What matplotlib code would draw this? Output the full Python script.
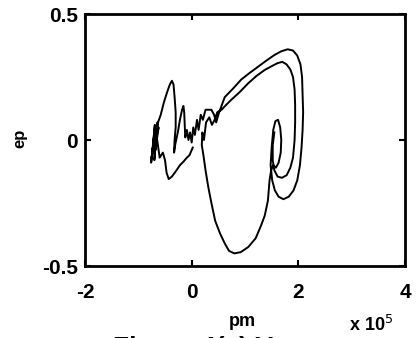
import matplotlib
matplotlib.use("Agg")
import matplotlib.pyplot as plt

# pm in units of 1e5, ep
pm = [0.02, -0.04, -0.09, -0.15, -0.22, -0.30, -0.37, -0.43, -0.47, -0.50, -0.54,
      -0.60, -0.66, -0.70, -0.67, -0.73, -0.69, -0.76, -0.70, -0.75, -0.66, -0.72, -0.64,
      -0.70, -0.62, -0.68, -0.63,
      -0.58, -0.52, -0.46, -0.41, -0.37, -0.34, -0.32, -0.30, -0.30, -0.32, -0.33, -0.31,
      -0.26, -0.22, -0.18, -0.155, -0.14, -0.13, -0.12, -0.09, -0.06, -0.03, 0.00, 0.03,
      0.06, 0.10, 0.13, 0.17, 0.21, 0.26, 0.32, 0.37, 0.42, 0.46, 0.50, 0.55,
      0.62, 0.78, 0.93, 1.08, 1.24, 1.40, 1.55, 1.68, 1.80, 1.90, 1.98, 2.04, 2.07, 2.08,
      2.09, 2.08, 2.06, 2.03, 1.98, 1.91, 1.82, 1.72, 1.63, 1.56, 1.51, 1.48,
      1.50, 1.53, 1.57, 1.62, 1.66, 1.68, 1.67, 1.63, 1.58, 1.53, 1.49,
      1.46, 1.43, 1.37, 1.30, 1.20, 1.06, 0.92, 0.80, 0.70, 0.62, 0.53, 0.44, 0.37, 0.31,
      0.26, 0.22, 0.19,
      0.20, 0.23, 0.27, 0.33, 0.38, 0.43, 0.48, 0.56, 0.65, 0.745, 0.90, 1.06, 1.22, 1.37,
      1.50, 1.61, 1.70, 1.78, 1.85, 1.90, 1.93, 1.94, 1.94, 1.93, 1.90, 1.85, 1.78, 1.69,
      1.61, 1.55, 1.52, 1.52, 1.55]
ep = [-0.03, -0.06, -0.07, -0.085, -0.10, -0.125, -0.145, -0.155, -0.13, -0.08, -0.05,
      -0.07, 0.02, -0.08, 0.05, -0.04, 0.06, -0.09, 0.02, -0.07, 0.04, -0.05, 0.07,
      -0.02, 0.05, -0.04, 0.07,
      0.10, 0.15, 0.19, 0.22, 0.235, 0.22, 0.17, 0.11, 0.05, 0.00, -0.05, -0.02,
      0.03, 0.08, 0.12, 0.135, 0.11, 0.06, 0.01, 0.04, 0.00, 0.03, -0.01, 0.05,
      0.02, 0.08, 0.04, 0.10, 0.08, 0.12, 0.12, 0.12, 0.10, 0.07, 0.10, 0.13,
      0.17, 0.205, 0.24, 0.265, 0.29, 0.315, 0.337, 0.352, 0.36, 0.355, 0.335, 0.30, 0.25, 0.18,
      0.11, 0.04, -0.03, -0.10, -0.16, -0.20, -0.225, -0.235, -0.225, -0.20, -0.16, -0.10,
      -0.03, 0.04, 0.075, 0.08, 0.05, 0.00, -0.05, -0.09, -0.11, -0.10, -0.12,
      -0.16, -0.24, -0.30, -0.34, -0.39, -0.425, -0.445, -0.45, -0.44, -0.41, -0.37, -0.32, -0.25, -0.185,
      -0.12, -0.06, -0.02,
      0.03, 0.00, 0.07, 0.09, 0.06, 0.08, 0.11, 0.12, 0.14, 0.16, 0.19, 0.225, 0.255, 0.278,
      0.293, 0.305, 0.31, 0.30, 0.28, 0.25, 0.20, 0.14, 0.07, 0.00, -0.07, -0.11, -0.14, -0.15,
      -0.145, -0.12, -0.08, -0.02, 0.03]

xticks = [-2, 0, 2, 4]
yticks = [-0.5, 0, 0.5]
xticklabels = ["-2", "0", "2", "4"]
yticklabels = ["-0.5", "0", "0.5"]

plt.rcParams['font.family'] = ['Liberation Sans', 'DejaVu Sans']
fig = plt.figure(figsize=(4.16, 3.38), dpi=100)
L, R, T, B = 85, 405, 14, 266
ax = fig.add_axes([L/416, (338-B)/338, (R-L)/416, (B-T)/338])
ax.plot(pm, ep, color='black', lw=1.4)
ax.set_xlim(-2, 4)
ax.set_ylim(-0.5, 0.5)
ax.set_xticks(xticks)
ax.set_xticklabels(xticklabels, fontsize=15, fontweight='bold')
ax.set_yticks(yticks)
ax.set_yticklabels(yticklabels, fontsize=15, fontweight='bold')
ax.tick_params(direction='in', top=True, right=True, length=4, width=1.5)
ax.tick_params(axis='x', pad=12)
ax.tick_params(axis='y', pad=5)
for s in ax.spines.values():
    s.set_linewidth(2)

fig.text(20/416, 1-138/338, "ep", rotation=90, fontsize=12, fontweight='bold',
         ha='center', va='center')
fig.text(242/416, 1-322/338, "pm", fontsize=13, fontweight='bold',
         ha='center', va='center')
fig.text(371/416, 1-325/338, r"x 10$^{5}$", fontsize=13, fontweight='bold',
         ha='center', va='center')
fig.text(113/416, 1-336/338, "Figure 4(a) V", fontsize=19, fontweight='bold',
         ha='left', va='top')

fig.savefig("out.png", dpi=100)
